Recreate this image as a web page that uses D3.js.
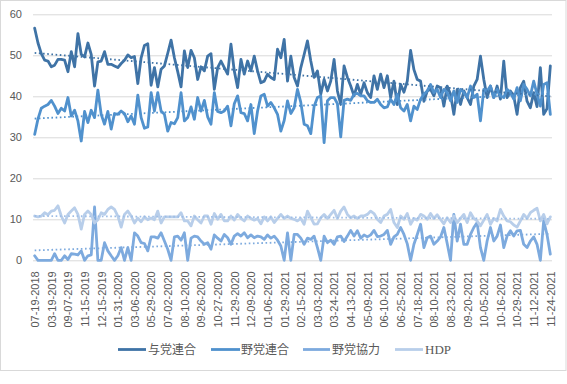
<!DOCTYPE html>
<html><head><meta charset="utf-8">
<script src="https://cdn.jsdelivr.net/npm/d3@7"></script>
<style>
body{margin:0;background:#fff;}
svg{display:block;}
</style></head>
<body>
<svg id="chart" width="567" height="384"></svg>
<script>
// Tick labels (every 5th poll)
const tickLabels = ["07-19-2018","03-19-2019","09-07-2019","11-15-2019","12-15-2019","01-31-2020","03-06-2020","05-29-2020","07-02-2020","08-10-2020","09-26-2020","10-27-2020","11-29-2020","12-09-2020","01-06-2021","01-29-2021","02-15-2021","03-03-2021","03-24-2021","04-13-2021","05-09-2021","06-10-2021","06-25-2021","07-18-2021","08-10-2021","08-23-2021","09-20-2021","10-05-2021","10-16-2021","10-29-2021","11-12-2021","11-24-2021"];
const seriesNames = ["与党連合","野党連合","野党協力","HDP"];
const seriesColors = ["#3f73a6","#5091cd","#7daade","#b8ceea"];

const yotoRengo = [56.6,53.0,50.4,48.8,48.6,47.2,47.6,49.0,49.0,48.8,46.0,50.9,47.2,55.3,50.2,49.6,53.0,50.2,42.5,48.4,48.6,50.9,47.8,47.8,47.4,47.0,48.0,48.8,50.1,49.4,49.7,43.1,49.4,52.4,52.8,42.7,47.0,42.3,46.6,47.4,50.5,53.7,49.4,46.0,42.3,51.1,47.0,51.2,49.4,44.1,47.2,46.2,49.8,50.4,41.7,47.0,48.6,47.0,45.4,52.7,46.2,42.1,49.0,45.4,48.6,46.2,49.8,46.2,43.3,43.7,45.4,44.6,44.1,51.5,49.4,53.9,43.7,49.8,44.6,42.5,47.0,50.2,53.5,48.6,44.6,46.2,40.5,44.1,41.3,43.7,49.0,41.3,38.0,47.4,44.6,42.5,40.1,42.9,40.5,43.3,40.9,39.7,45.0,41.7,45.4,42.1,45.0,39.7,43.7,38.0,42.9,41.0,43.7,51.2,46.5,44.1,43.7,38.8,41.3,41.7,40.1,42.5,42.1,37.6,42.5,40.5,35.6,41.7,38.0,41.3,39.7,38.0,42.5,44.1,49.8,44.1,39.7,42.5,39.7,42.5,39.3,48.6,39.7,41.3,40.1,35.6,42.1,43.7,38.8,37.2,40.9,37.5,47.0,35.6,37.0,47.4];
const yatoRengo = [30.7,34.5,37.1,37.6,38.0,39.0,37.6,35.8,37.1,36.4,39.7,35.2,36.6,34.0,29.1,36.3,33.6,36.6,34.8,41.5,35.6,33.2,36.3,32.0,35.8,35.6,36.4,35.8,33.8,35.2,33.2,40.3,34.8,32.2,32.5,40.9,36.4,40.9,36.4,35.6,31.5,33.6,33.3,34.8,40.9,34.0,34.8,37.4,34.4,39.7,36.4,39.0,35.0,33.2,40.9,36.3,36.0,36.4,37.6,32.8,38.2,40.1,36.0,35.8,34.0,38.0,30.9,36.4,40.1,40.5,37.6,38.5,37.2,35.6,31.5,34.1,38.9,35.8,37.2,41.7,38.5,33.2,32.8,30.9,37.6,39.7,40.1,28.7,38.9,39.7,39.7,38.2,30.1,39.0,39.3,39.0,40.5,40.7,40.1,40.1,38.9,38.5,38.5,39.3,38.0,37.2,37.4,39.3,38.0,40.5,37.2,36.4,38.0,34.0,37.6,36.8,39.3,40.5,41.3,42.9,40.9,41.7,39.7,41.7,40.9,38.9,41.3,38.5,41.7,40.9,39.7,42.5,39.7,40.5,34.0,41.7,41.3,42.5,39.7,41.7,40.1,39.7,41.7,40.9,39.3,42.1,38.9,42.9,41.7,40.1,43.7,40.5,37.6,42.9,43.3,35.6];
const yatoKyoryoku = [1.1,0,0,0,0,0,1.6,0,0,1.1,0.2,1.6,1.5,1.3,2.3,0,1.1,1.3,13.0,0,0,4.3,2.3,1.1,0,1.1,3.1,0,3.1,0,6.7,5.9,4.3,4.1,2.3,5.7,5.7,5.4,6.7,4.7,2.7,0,5.7,5.9,4.9,6.7,0,5.4,5.9,5.7,4.7,3.9,4.3,2.7,6.2,5.4,4.7,6.3,5.5,3.9,5.9,6.5,5.9,6.7,5.5,6.2,5.5,5.9,5.7,5.1,6.2,5.4,5.9,4.9,3.5,0,6.7,0,6.3,6.3,5.4,3.9,5.4,5.1,5.9,3.1,0,5.9,4.3,4.9,3.9,5.7,5.9,4.6,5.9,7.3,5.9,7.2,5.4,6.2,5.7,6.2,7.3,5.8,5.9,6.3,7.3,3.9,5.7,6.3,8.0,6.3,4.0,0,3.9,6.3,8.8,3.1,5.5,5.9,3.9,4.7,5.7,8.0,4.1,0,11.2,4.7,8.8,3.9,3.9,6.3,8.0,9.2,3.1,0,4.7,8.0,4.7,5.9,8.6,3.1,5.9,7.2,5.9,7.2,7.3,3.9,3.1,4.7,5.7,3.9,0,9.6,6.3,1.5];
const hdp = [10.8,10.6,10.8,11.6,11.1,12.0,12.2,13.3,10.8,9.1,11.2,12.0,12.8,11.2,7.6,11.2,12.0,11.2,9.1,9.9,11.6,11.2,12.4,13.0,12.4,10.8,8.1,11.2,12.0,10.8,9.1,10.3,9.4,10.6,9.9,10.3,9.9,12.0,9.1,10.6,10.6,10.6,10.6,10.6,11.6,9.6,9.6,8.4,10.8,9.9,9.1,10.8,10.8,8.8,11.4,10.0,11.2,9.6,9.6,10.8,9.8,11.2,10.2,9.6,10.8,10.2,9.8,10.2,8.9,10.6,9.6,10.6,9.2,10.2,11.2,10.2,10.8,10.2,10.0,9.6,10.2,8.8,12.0,10.4,8.8,8.9,10.4,11.2,10.2,11.2,12.2,10.2,12.0,13.0,11.2,10.4,10.8,10.2,10.8,10.8,11.2,12.0,11.4,10.0,9.2,10.8,11.2,12.4,9.2,8.0,10.8,10.0,11.4,8.8,10.2,9.8,11.2,10.8,10.0,11.4,10.2,11.1,10.0,8.9,10.4,9.2,10.8,9.2,10.2,11.2,9.2,11.6,10.2,9.6,8.4,9.8,11.2,8.8,10.2,9.6,12.4,10.8,9.6,9.4,8.6,8.1,9.6,11.2,10.2,11.6,12.2,12.7,9.6,11.2,8.9,10.6];
const yTicks = [0,10,20,30,40,50,60];

const allSeries = [yotoRengo, yatoRengo, yatoKyoryoku, hdp];
const n = yotoRengo.length;
const idx = d3.range(n);

const svg = d3.select("#chart");
const plotLeft = 33, plotRight = 552, plotTop = 14.3, plotBottom = 260.3;

// chart border
svg.append("rect").attr("x",0.5).attr("y",0.5).attr("width",565.5).attr("height",370)
  .attr("fill","#fff").attr("stroke","#d9d9d9").attr("stroke-width",1);

const x = d3.scalePoint().domain(idx).range([plotLeft, plotRight]).padding(0.5);
const y = d3.scaleLinear().domain([0,60]).range([plotBottom, plotTop]);

// y axis + gridlines
const yAxis = svg.append("g").attr("transform",`translate(${plotLeft},0)`)
  .call(d3.axisLeft(y).tickValues(yTicks).tickSize(-(plotRight-plotLeft)).tickPadding(11).tickFormat(d3.format("d")));
yAxis.select(".domain").remove();
yAxis.selectAll(".tick line").attr("stroke","#d9d9d9").attr("stroke-width",1);
yAxis.selectAll(".tick text").attr("fill","#595959").style("font-family","'Liberation Sans', Arial, sans-serif").style("font-size","11px");

// x axis
const xAxis = svg.append("g").attr("transform",`translate(0,${plotBottom})`)
  .call(d3.axisBottom(x).tickValues(idx.filter(i => i % 5 === 0)).tickSize(0).tickFormat(i => tickLabels[i/5]));
xAxis.select(".domain").remove();
xAxis.selectAll(".tick text")
  .attr("transform","rotate(-90)")
  .attr("x",-11).attr("y",0).attr("dy","0.35em")
  .attr("text-anchor","end")
  .attr("fill","#595959")
  .style("font-family","'Liberation Sans', Arial, sans-serif")
  .style("font-size","11px");

// lines
const line = d3.line().x((d,i) => x(i)).y(d => y(d));
const plot = svg.append("g");
allSeries.forEach((s, k) => {
  plot.append("path").datum(s).attr("d", line)
    .attr("fill","none").attr("stroke", seriesColors[k])
    .attr("stroke-width",2.8).attr("stroke-linejoin","round").attr("stroke-linecap","round");
});

// linear trendlines (least squares)
function fit(s){
  const mx = d3.mean(idx), my = d3.mean(s);
  let num = 0, den = 0;
  idx.forEach(i => { num += (i-mx)*(s[i]-my); den += (i-mx)*(i-mx); });
  const b = num/den, a = my - b*mx;
  return [a, b];
}
allSeries.forEach((s, k) => {
  const [a,b] = fit(s);
  plot.append("line")
    .attr("x1", x(0)).attr("y1", y(a))
    .attr("x2", x(n-1)).attr("y2", y(a + b*(n-1)))
    .attr("stroke", k===3 ? "#9dbde6" : seriesColors[k])
    .attr("stroke-width",1.8).attr("stroke-dasharray","1.6,2.6").attr("stroke-linecap","butt");
});

// legend
const legendItems = [
  {x1:118, x2:146, tx:148},
  {x1:211, x2:240, tx:241},
  {x1:303, x2:330, tx:332},
  {x1:395, x2:423, tx:425}
];
const lg = svg.append("g");
legendItems.forEach((it, k) => {
  lg.append("line").attr("x1",it.x1).attr("x2",it.x2).attr("y1",349.5).attr("y2",349.5)
    .attr("stroke",seriesColors[k]).attr("stroke-width",2.8);
  lg.append("text").attr("x",it.tx).attr("y",349.5).attr("dy","0.36em")
    .attr("fill","#595959")
    .style("font-family", k===3 ? "'Liberation Serif', 'Times New Roman', serif" : "'Noto Sans CJK JP', sans-serif")
    .style("font-size", k===3 ? "13px" : "12px")
    .text(seriesNames[k]);
});
</script>
</body></html>
